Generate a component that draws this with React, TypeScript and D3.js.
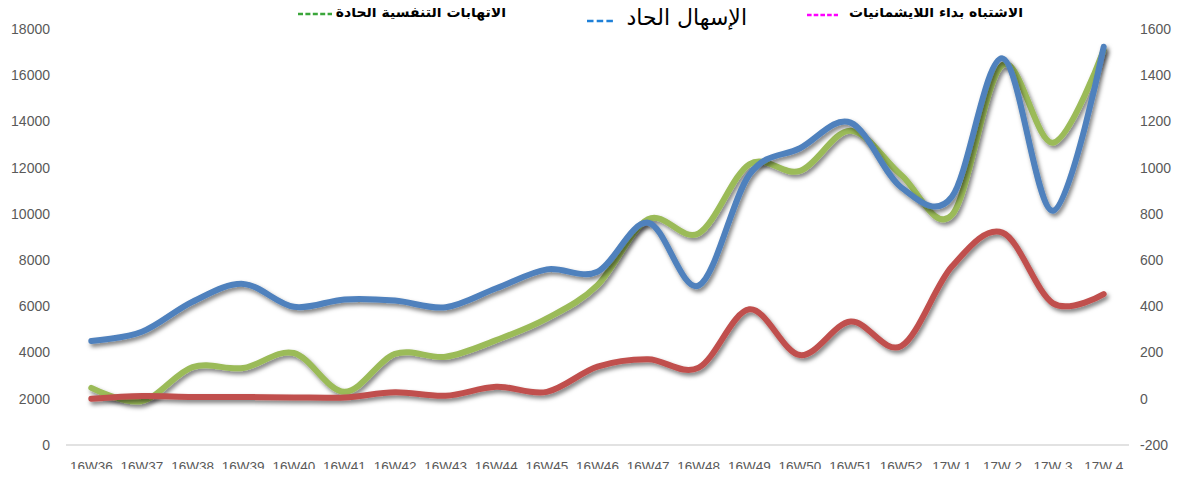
import React, { useRef, useEffect } from 'react';
import * as d3 from 'd3';

// weekly counts
const weeks = [
  '16W36', '16W37', '16W38', '16W39', '16W40', '16W41', '16W42', '16W43', '16W44', '16W45', '16W46',
  '16W47', '16W48', '16W49', '16W50', '16W51', '16W52', '17W 1', '17W 2', '17W 3', '17W 4',
];
const respiratory = [
  2470, 1900, 3370, 3330, 3980, 2300, 3940, 3820, 4540, 5480, 6920,
  9770, 9160, 12150, 11860, 13600, 11680, 9950, 16440, 13080, 17090,
];
const diarrhea = [
  4500, 4900, 6200, 6970, 5980, 6300, 6250, 5960, 6780, 7600, 7500,
  9620, 6900, 11700, 12840, 13950, 11150, 10740, 16730, 10140, 17230,
];
// right axis
const leishmaniasis = [
  0, 12, 8, 8, 6, 6, 28, 13, 52, 30, 139,
  171, 135, 387, 189, 334, 228, 572, 719, 413, 453,
];
const leftTicks = [0, 2000, 4000, 6000, 8000, 10000, 12000, 14000, 16000, 18000];
const rightTicks = [-200, 0, 200, 400, 600, 800, 1000, 1200, 1400, 1600];

const LineChart = () => {
  const svgRef = useRef<SVGSVGElement>(null);

  useEffect(() => {
    const svg = d3.select(svgRef.current);
    svg.selectAll('*').remove();

    const width = 1182;
    const height = 477;
    const margin = { top: 29, bottom: 32, left: 66, right: 53 };

    const x = d3
      .scalePoint<string>()
      .domain(weeks)
      .range([margin.left, width - margin.right])
      .padding(0.5);
    const yL = d3.scaleLinear().domain([0, 18000]).range([height - margin.bottom, margin.top]);
    const yR = d3.scaleLinear().domain([-200, 1600]).range([height - margin.bottom, margin.top]);

    const defs = svg.append('defs');
    const f = defs
      .append('filter')
      .attr('id', 'shadow')
      .attr('x', '-10%')
      .attr('y', '-10%')
      .attr('width', '120%')
      .attr('height', '130%');
    f.append('feDropShadow')
      .attr('dx', 2)
      .attr('dy', 3)
      .attr('stdDeviation', 2)
      .attr('flood-color', '#000')
      .attr('flood-opacity', 0.5);

    const font = "'Liberation Sans', Arial, sans-serif";

    // base axis line
    svg
      .append('line')
      .attr('x1', margin.left)
      .attr('x2', width - margin.right)
      .attr('y1', yL(0))
      .attr('y2', yL(0))
      .attr('stroke', '#d9d9d9')
      .attr('stroke-width', 1.5);

    // left axis labels
    svg
      .append('g')
      .selectAll('text')
      .data(leftTicks)
      .join('text')
      .attr('x', 50)
      .attr('y', (d) => yL(d))
      .attr('dy', '0.35em')
      .attr('text-anchor', 'end')
      .attr('font-family', font)
      .attr('font-size', 14)
      .attr('fill', '#595959')
      .text((d) => d);

    // right axis labels
    svg
      .append('g')
      .selectAll('text')
      .data(rightTicks)
      .join('text')
      .attr('x', 1140)
      .attr('y', (d) => yR(d))
      .attr('dy', '0.35em')
      .attr('text-anchor', 'start')
      .attr('font-family', font)
      .attr('font-size', 14)
      .attr('fill', '#595959')
      .text((d) => d);

    // x labels
    svg
      .append('g')
      .selectAll('text')
      .data(weeks)
      .join('text')
      .attr('x', (d) => x(d)!)
      .attr('y', 466)
      .attr('dy', '0.35em')
      .attr('text-anchor', 'middle')
      .attr('font-family', font)
      .attr('font-size', 13.5)
      .attr('fill', '#595959')
      .style('white-space', 'pre')
      .text((d) => d);

    const curve = d3.curveCardinal.tension(0);
    const lineL = d3
      .line<number>()
      .x((d, i) => x(weeks[i])!)
      .y((d) => yL(d))
      .curve(curve);
    const lineR = d3
      .line<number>()
      .x((d, i) => x(weeks[i])!)
      .y((d) => yR(d))
      .curve(curve);

    const series = [
      { values: respiratory, line: lineL, color: '#9BBB59' },
      { values: leishmaniasis, line: lineR, color: '#C0504D' },
      { values: diarrhea, line: lineL, color: '#4F81BD' },
    ];

    series.forEach((s) => {
      svg
        .append('path')
        .datum(s.values)
        .attr('d', s.line)
        .attr('fill', 'none')
        .attr('stroke', s.color)
        .attr('stroke-width', 6)
        .attr('stroke-linecap', 'round')
        .attr('stroke-linejoin', 'round')
        .attr('filter', 'url(#shadow)');
    });

    // legend (text + dashed marker)
    const legend = [
      { label: 'الاتهابات التنفسية الحادة', color: '#3AA63A', right: 506, d0: 298, d1: 332, dash: '5,2.4', dy: 14, size: 14, weight: 'bold', y: 17 },
      { label: 'الإسهال الحاد', color: '#1F80D8', right: 747, d0: 587, d1: 613, dash: '6.5,3.2', dy: 21, size: 22, weight: 'normal', y: 25 },
      { label: 'الاشتباه بداء اللايشمانيات', color: '#FF00FF', right: 1023, d0: 807, d1: 838, dash: '4.6,2.1', dy: 15, size: 14, weight: 'bold', y: 17 },
    ];
    legend.forEach((l) => {
      svg
        .append('text')
        .attr('x', l.right)
        .attr('y', l.y)
        .attr('text-anchor', 'end')
        .attr('font-family', "'DejaVu Sans', Arial, sans-serif")
        .attr('font-size', l.size)
        .attr('font-weight', l.weight)
        .attr('fill', '#000')
        .text(l.label);
      svg
        .append('line')
        .attr('x1', l.d0)
        .attr('x2', l.d1)
        .attr('y1', l.dy)
        .attr('y2', l.dy)
        .attr('stroke', l.color)
        .attr('stroke-width', 2.5)
        .attr('stroke-dasharray', l.dash);
    });
  }, []);

  return <svg ref={svgRef} width={1182} height={477} style={{ display: 'block' }} />;
};

export default function App() {
  return (
    <div style={{ margin: -8 }}>
      <LineChart />
    </div>
  );
}
